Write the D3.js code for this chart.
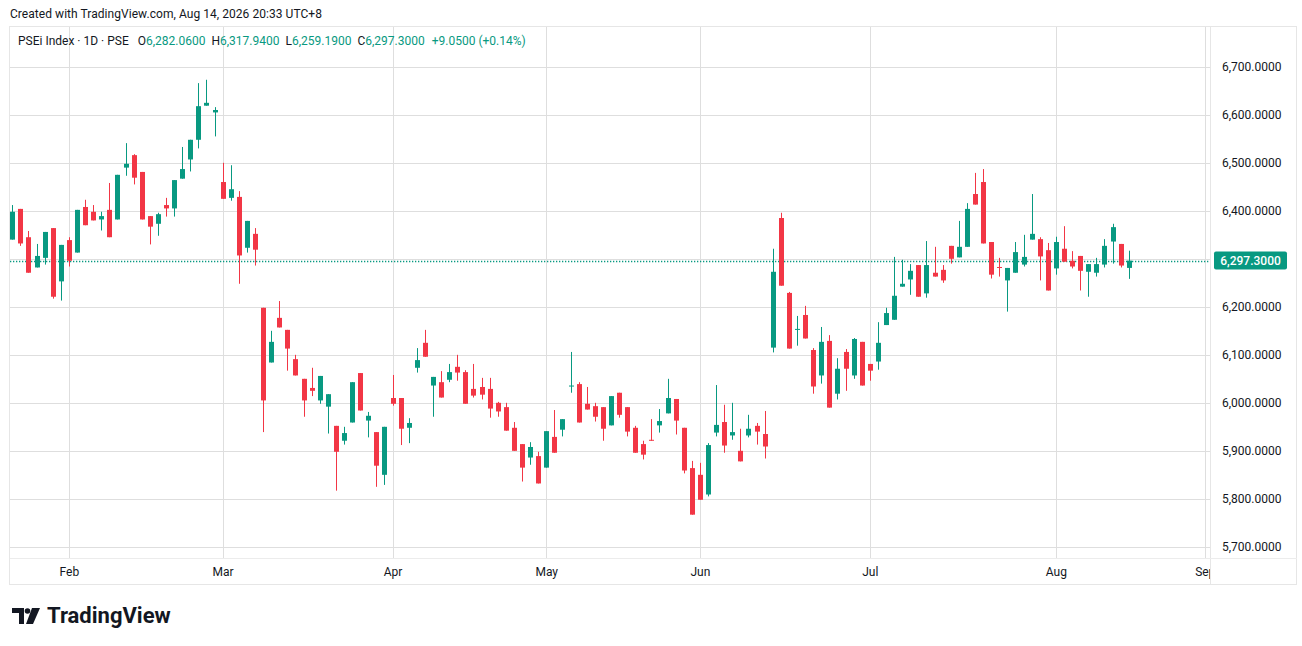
<!DOCTYPE html>
<html>
<head>
<meta charset="utf-8">
<script src="https://cdn.jsdelivr.net/npm/d3@7"></script>
<style>
  html, body { margin: 0; padding: 0; background: #ffffff; }
  svg { display: block; font-family: Roboto, "Noto Sans", sans-serif; }
</style>
</head>
<body>
<svg id="chart" width="1302" height="646"></svg>
<script>
// ---- data ----
const opens  = [6341,6405,6346,6283,6303,6365,6254,6340,6314,6409,6399,6383,6403,6383,6491,6517,6482,6390,6374,6413,
  6406,6468,6508,6549,6620,6606,6461,6428,6430,6324,6353,6199,6085,6178,6153,6092,6051,6032,6006,5993,
  5953,5922,5960,6063,5964,5940,5851,6011,6011,5949,6074,6126,6037,6044,6049,6076,6065,6030,6034,6030,
  6001,5992,5949,5915,5887,5890,5866,5930,5945,6035,6040,5999,5994,5992,5954,6022,5992,5949,5915,5924,
  5954,5979,6009,5949,5865,5851,5810,5939,5961,5933,5901,5933,5953,5936,6116,6386,6230,6154,6184,6111,
  6058,6130,6020,6107,6058,6128,6082,6087,6163,6174,6243,6258,6288,6229,6272,6278,6328,6304,6326,6436,
  6461,6336,6284,6256,6272,6289,6341,6342,6319,6281,6322,6297,6307,6274,6272,6289,6337,6332,6282.06];
const highs  = [6413,6405,6359,6332,6357,6365,6330,6346,6403,6424,6413,6399,6459,6476,6542,6519,6482,6390,6397,6428,
  6465,6534,6549,6667,6674,6617,6501,6496,6442,6380,6365,6199,6151,6213,6153,6101,6051,6074,6057,6019,
  5953,5951,6044,6063,5982,5940,5951,6059,6011,5969,6115,6153,6055,6067,6082,6101,6069,6082,6053,6053,
  6003,6001,5961,5915,5919,5899,5942,5986,5967,6107,6044,6034,6001,5992,6015,6022,5992,5953,5922,5967,
  5988,6051,6009,5949,5880,5876,5917,6038,5997,6001,5947,5976,5959,5984,6322,6397,6232,6182,6203,6115,
  6159,6142,6094,6113,6136,6128,6082,6169,6199,6305,6299,6290,6288,6338,6326,6288,6328,6380,6417,6480,
  6488,6336,6303,6282,6336,6351,6436,6346,6334,6347,6369,6317,6307,6290,6303,6342,6374,6332,6317.94];
const lows   = [6341,6328,6272,6283,6289,6218,6214,6285,6314,6371,6381,6360,6346,6383,6474,6456,6383,6331,6349,6389,
  6389,6468,6483,6531,6620,6556,6426,6422,6249,6314,6287,5940,6085,6158,6068,6058,5972,6015,5999,5937,
  5818,5914,5960,5985,5929,5826,5830,5995,5913,5917,6064,6097,5972,6012,6044,6047,5999,6012,6008,5970,
  5972,5943,5901,5837,5872,5833,5866,5897,5931,6022,5960,5987,5962,5922,5954,5970,5931,5897,5883,5922,
  5939,5979,5935,5854,5768,5799,5806,5931,5897,5924,5879,5929,5914,5885,6106,6245,6114,6120,6135,6020,
  6041,5991,6008,6026,6051,6037,6047,6070,6163,6174,6243,6226,6222,6220,6264,6251,6291,6304,6326,6414,
  6333,6260,6264,6191,6272,6285,6341,6256,6235,6268,6295,6281,6235,6222,6264,6283,6291,6283,6259.19];
const closes = [6399,6333,6272,6307,6357,6222,6330,6297,6403,6371,6381,6390,6346,6476,6499,6470,6383,6368,6394,6406,
  6465,6488,6549,6619,6626,6611,6426,6446,6308,6380,6320,6006,6128,6158,6114,6058,6006,6026,6057,6019,
  5899,5938,6044,5985,5974,5870,5951,5999,5947,5959,6090,6097,6055,6012,6065,6064,5999,6016,6018,5989,
  5983,5943,5901,5866,5909,5833,5942,5897,5967,6037,5960,5987,5972,5947,6015,5976,5941,5897,5893,5922,
  5963,6011,5964,5860,5768,5799,5913,5955,5912,5940,5879,5947,5941,5910,6274,6245,6114,6155,6135,6035,
  6128,5991,6072,6072,6134,6037,6068,6126,6188,6224,6249,6276,6222,6288,6264,6256,6301,6326,6405,6414,
  6333,6268,6283,6282,6315,6305,6353,6306,6235,6336,6295,6285,6276,6290,6290,6328,6367,6287,6297.30];

// month labels and the bar index of the first session of each month
const monthLabels = ["Feb", "Mar", "Apr", "May", "Jun", "Jul", "Aug", "Sep"];
const monthIndex  = [7, 26, 47, 66, 85, 106, 129, 147.4];

// price axis tick values
const priceTicks = [5700, 5800, 5900, 6000, 6100, 6200, 6300, 6400, 6500, 6600, 6700];

const lastPrice = 6297.30;
const legendParts = [
  {t: "PSEi Index · 1D · PSE", c: "#131722", gap: 0},
  {t: "O", c: "#131722", gap: 9}, {t: "6,282.0600", c: "#089981", gap: 0},
  {t: "H", c: "#131722", gap: 6}, {t: "6,317.9400", c: "#089981", gap: 0},
  {t: "L", c: "#131722", gap: 6}, {t: "6,259.1900", c: "#089981", gap: 0},
  {t: "C", c: "#131722", gap: 6}, {t: "6,297.3000", c: "#089981", gap: 0},
  {t: "+9.0500 (+0.14%)", c: "#089981", gap: 7}
];

// ---- layout ----
const pane = {left: 10, right: 1210, top: 27, bottom: 558};
const frame = {left: 10, right: 1297, top: 27, bottom: 585};
const UP = "#089981", DOWN = "#f23645", GRID = "#dedede", TXT = "#131722";

const svg = d3.select("#chart");
const x = d3.scaleLinear().domain([0, 138]).range([12.3, 1128.7]);
const y = d3.scaleLinear().domain([5700, 6700]).range([547.3, 67.3]);

const candles = opens.map((o, i) => ({i, o, h: highs[i], l: lows[i], c: closes[i]}));

// frame
svg.append("rect").attr("x", frame.left - 0.5).attr("y", frame.top - 0.5)
  .attr("width", frame.right - frame.left).attr("height", frame.bottom - frame.top)
  .attr("fill", "#ffffff").attr("stroke", "#e6e6e6");

svg.append("defs").append("clipPath").attr("id", "paneClip")
  .append("rect").attr("x", pane.left).attr("y", pane.top)
  .attr("width", pane.right - pane.left).attr("height", pane.bottom - pane.top);

const g = svg.append("g").attr("clip-path", "url(#paneClip)");

// grid
g.selectAll("line.hgrid").data(priceTicks).join("line")
  .attr("x1", pane.left).attr("x2", pane.right)
  .attr("y1", d => Math.round(y(d)) + 0.5).attr("y2", d => Math.round(y(d)) + 0.5)
  .attr("stroke", GRID);
g.selectAll("line.vgrid").data(monthIndex).join("line")
  .attr("x1", d => Math.round(x(d)) + 0.5).attr("x2", d => Math.round(x(d)) + 0.5)
  .attr("y1", pane.top).attr("y2", pane.bottom)
  .attr("stroke", GRID);

// last price dotted line
g.append("line")
  .attr("x1", pane.left).attr("x2", pane.right)
  .attr("y1", Math.round(y(lastPrice)) + 0.5).attr("y2", Math.round(y(lastPrice)) + 0.5)
  .attr("stroke", UP).attr("stroke-width", 1.3).attr("stroke-dasharray", "1.3,1.7");

// candles
const cg = g.append("g");
cg.selectAll("line.wick").data(candles).join("line")
  .attr("x1", d => Math.round(x(d.i)) + 0.5).attr("x2", d => Math.round(x(d.i)) + 0.5)
  .attr("y1", d => y(d.h)).attr("y2", d => y(d.l))
  .attr("stroke", d => d.c >= d.o ? UP : DOWN).attr("stroke-width", 1);
cg.selectAll("rect.body").data(candles).join("rect")
  .attr("x", d => Math.round(x(d.i)) - 2)
  .attr("width", 5)
  .attr("y", d => y(Math.max(d.o, d.c)))
  .attr("height", d => Math.max(1, Math.abs(y(d.o) - y(d.c))))
  .attr("fill", d => d.c >= d.o ? UP : DOWN);

// price axis separator
svg.append("line").attr("x1", pane.right + 0.5).attr("x2", pane.right + 0.5)
  .attr("y1", frame.top).attr("y2", frame.bottom).attr("stroke", "#e6e6e6");
// time axis separator
svg.append("line").attr("x1", frame.left).attr("x2", frame.right)
  .attr("y1", pane.bottom + 0.5).attr("y2", pane.bottom + 0.5).attr("stroke", "#ececec");

const fmt = d3.format(",.4f");
svg.selectAll("text.price").data(priceTicks).join("text")
  .attr("x", 1222).attr("y", d => y(d) + 4)
  .attr("font-size", 12).attr("fill", TXT)
  .text(d => fmt(d));

// last price label
const ly = y(lastPrice);
svg.append("rect").attr("x", 1214).attr("y", ly - 9).attr("width", 73).attr("height", 18)
  .attr("rx", 2).attr("fill", UP);
svg.append("text").attr("x", 1250.5).attr("y", ly + 4.5).attr("text-anchor", "middle")
  .attr("font-size", 12).attr("font-weight", 500).attr("fill", "#ffffff").text(fmt(lastPrice));

// time axis labels (clipped to pane width)
svg.append("defs").append("clipPath").attr("id", "timeClip")
  .append("rect").attr("x", pane.left).attr("y", pane.bottom).attr("width", pane.right - pane.left).attr("height", 30);
svg.append("g").attr("clip-path", "url(#timeClip)")
  .selectAll("text").data(monthLabels).join("text")
  .attr("x", (d, k) => x(monthIndex[k]) + 0.5).attr("y", 576)
  .attr("text-anchor", "middle").attr("font-size", 12).attr("fill", TXT)
  .text(d => d);

// header
svg.append("text").attr("x", 10).attr("y", 18).attr("font-size", 12).attr("fill", TXT)
  .attr("letter-spacing", 0.05)
  .text("Created with TradingView.com, Aug 14, 2026 20:33 UTC+8");

// legend
const leg = svg.append("text").attr("x", 18).attr("y", 45).attr("font-size", 12);
legendParts.forEach(p => {
  leg.append("tspan").attr("dx", p.gap).attr("fill", p.c).text(p.t);
});

// TradingView logo
const logo = svg.append("g").attr("fill", TXT);
logo.append("path").attr("d", "M12,608 H24 V624 H19 V613 H12 Z");
logo.append("circle").attr("cx", 27.5).attr("cy", 611).attr("r", 2.8);
logo.append("path").attr("d", "M32,608 H40 L33,624 H26 Z");
svg.append("text").attr("x", 47).attr("y", 623).attr("font-size", 22).attr("font-weight", 700)
  .attr("fill", TXT).attr("letter-spacing", 0).text("TradingView");
</script>
</body>
</html>
